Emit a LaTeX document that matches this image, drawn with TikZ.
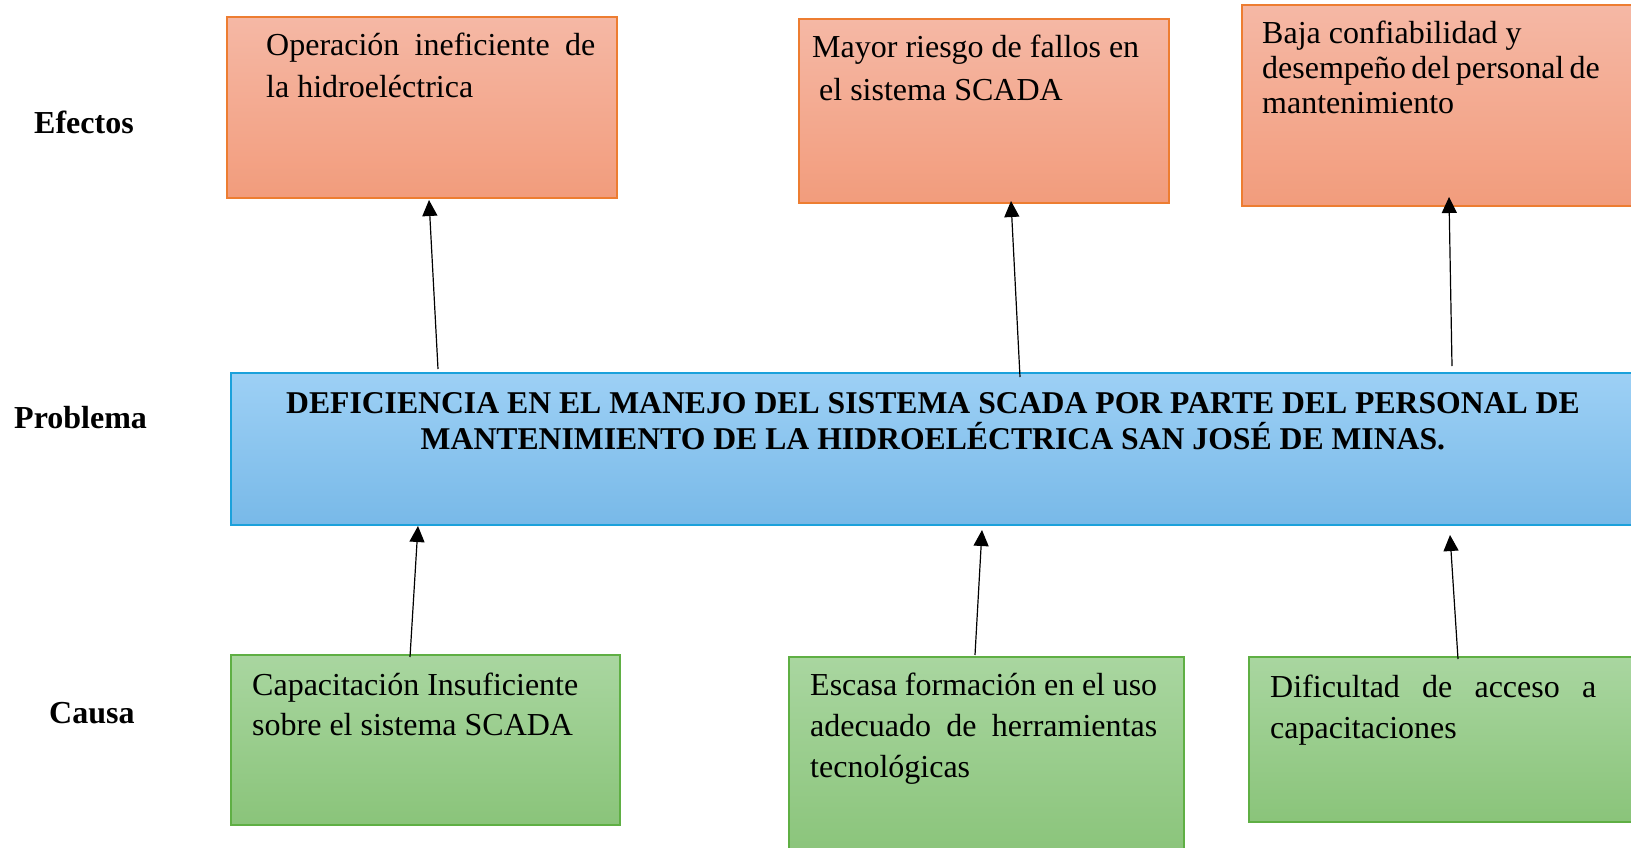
\documentclass[tikz,border=0pt]{standalone}
\usepackage{fontspec}
\setmainfont{Liberation Serif}
\usetikzlibrary{arrows.meta}
\definecolor{effTop}{HTML}{F5B8A5}
\definecolor{effBot}{HTML}{F29C7C}
\definecolor{effLine}{HTML}{ED7D31}
\definecolor{proTop}{HTML}{9DD0F5}
\definecolor{proBot}{HTML}{78B9E8}
\definecolor{proLine}{HTML}{1BA1DB}
\definecolor{cauTop}{HTML}{A9D6A0}
\definecolor{cauBot}{HTML}{8AC47A}
\definecolor{cauLine}{HTML}{5FAF44}
\newcommand{\jline}[2]{\makebox[#1][s]{#2}}
\begin{document}
\begin{tikzpicture}[x=1pt,y=-1pt,
  basebox/.style={anchor=north west, inner sep=0pt, outer sep=0pt, line width=1.5pt},
  effbox/.style={basebox, draw=effLine, top color=effTop, bottom color=effBot},
  probox/.style={basebox, draw=proLine, top color=proTop, bottom color=proBot},
  caubox/.style={basebox, draw=cauLine, top color=cauTop, bottom color=cauBot},
  txt/.style={anchor=base west, inner sep=0pt, font=\fontsize{32}{42}\selectfont},
  lbl/.style={anchor=base west, inner sep=0pt, font=\fontsize{32}{42}\selectfont\bfseries},
  arr/.style={line width=1.2pt, -{Triangle[length=16pt,width=15pt]}}]
\clip (0,0) rectangle (1631,847);
\useasboundingbox (0,0) rectangle (1631,847);
\fill[white] (0,0) rectangle (1631,847);

% labels
\node[lbl] (lef) at (34,133) {Efectos};
\node[lbl] (lpr) at (14,428) {Problema};
\node[lbl] (lca) at (49,723) {Causa};

% effect boxes
\node[effbox, minimum width=390pt, minimum height=181pt] (e1) at (227,17) {};
\node[effbox, minimum width=370pt, minimum height=184pt] (e2) at (799,19) {};
\node[effbox, minimum width=410pt, minimum height=201pt] (e3) at (1242,5) {};

\node[txt] (e1t) at (266,55) {\parbox[t]{340pt}{\setlength\baselineskip{42pt}\jline{329pt}{Operación ineficiente de}\\la hidroeléctrica}};
\node[txt] (e2t) at (812,57) {\parbox[t]{340pt}{\setlength\baselineskip{43pt}Mayor riesgo de fallos en\\\hspace*{7pt}el sistema SCADA}};
\node[txt] (e3t) at (1262,43) {\parbox[t]{360pt}{\setlength\baselineskip{35pt}Baja confiabilidad y\\\jline{336pt}{desempeño del personal de}\\mantenimiento}};

% problem box
\node[probox, minimum width=1420pt, minimum height=152pt] (p) at (231,373) {};
\node[anchor=base, inner sep=0pt, font=\fontsize{31.7}{36}\selectfont\bfseries, align=center] (pt) at (933,449)
  {DEFICIENCIA EN EL MANEJO DEL SISTEMA SCADA POR PARTE DEL PERSONAL DE\\MANTENIMIENTO DE LA HIDROELÉCTRICA SAN JOSÉ DE MINAS.};

% cause boxes
\node[caubox, minimum width=389pt, minimum height=170pt] (c1) at (231,655) {};
\node[caubox, minimum width=395pt, minimum height=200pt] (c2) at (789,657) {};
\node[caubox, minimum width=400pt, minimum height=165pt] (c3) at (1249,657) {};

\node[txt] (c1t) at (252,695) {\parbox[t]{360pt}{\setlength\baselineskip{40pt}Capacitación Insuficiente\\sobre el sistema SCADA}};
\node[txt] (c2t) at (810,695) {\parbox[t]{360pt}{\setlength\baselineskip{41pt}\jline{347pt}{Escasa formación en el uso}\\\jline{347pt}{adecuado de herramientas}\\tecnológicas}};
\node[txt] (c3t) at (1270,697) {\parbox[t]{340pt}{\setlength\baselineskip{41pt}\jline{326pt}{Dificultad de acceso a}\\capacitaciones}};

% arrows: problem -> effects
\draw[arr] ([xshift=207pt,yshift=4pt]p.north west) -- ([xshift=202pt,yshift=-2pt]e1.south west);
\draw[arr] ([xshift=789pt,yshift=-4pt]p.north west) -- ([xshift=212pt,yshift=2pt]e2.south west);
\draw[arr] ([xshift=1221pt,yshift=7pt]p.north west) -- ([xshift=207pt,yshift=9pt]e3.south west);
% arrows: causes -> problem
\draw[arr] ([xshift=179pt,yshift=-2pt]c1.north west) -- ([xshift=187pt,yshift=-1pt]p.south west);
\draw[arr] ([xshift=186pt,yshift=2pt]c2.north west) -- ([xshift=751pt,yshift=-5pt]p.south west);
\draw[arr] ([xshift=209pt,yshift=-2pt]c3.north west) -- ([xshift=1219pt,yshift=-10pt]p.south west);
\end{tikzpicture}
\end{document}
